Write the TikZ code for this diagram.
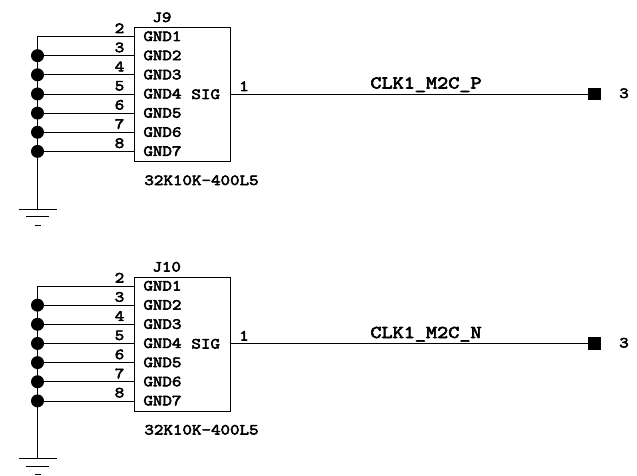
\documentclass[tikz,border=0pt]{standalone}
\usepackage{fontspec}
\setmonofont{Latin Modern Mono}[FakeBold=3.5,FakeStretch=1.2]
\usetikzlibrary{calc}

\begin{document}
\begin{tikzpicture}[x=1pt,y=-1pt,line width=0.8pt,
    every node/.style={font=\fontsize{15.4}{15}\ttfamily,inner sep=0},
    conn/.style={draw,minimum width=96pt,minimum height=134pt,anchor=north west},
    junction/.style={circle,fill,minimum size=13pt},
    terminal/.style={rectangle,fill,minimum size=12.5pt},
    netname/.style={font=\fontsize{18}{18}\ttfamily,anchor=base west},
    gndpin/.style={anchor=base west},
    pinnum/.style={anchor=base}]

    \useasboundingbox (0,0) rectangle (637,476);

    \foreach \part/\net/\off in {J9/P/0,J10/N/249.5}{
    \begin{scope}[shift={(0,\off)}]
        \node[conn] (\part) at (133.5,27) {};
        \node[anchor=base west] at (152,22) {\part};
        \node[anchor=base west] at (144,185) {32K10K-400L5};

        % ground pins
        \foreach \n/\pin in {1/2,2/3,3/4,4/5,5/6,6/7,7/8}{
            \coordinate (\part-bus\n) at (37.5,{36.5+19.15*(\n-1)});
            \coordinate (\part-pin\n) at (133.5,{36.5+19.15*(\n-1)});
            \draw (\part-bus\n) -- (\part-pin\n);
            \node[pinnum] at (119.5,{33+19.15*(\n-1)}) {\pin};
            \node[gndpin] at (143,{41+19.15*(\n-1)}) {GND\n};
            \ifnum\n>1
                \node[junction] at (\part-bus\n) {};
            \fi
        }

        % ground symbol
        \coordinate (\part-gnd) at (37.5,209);
        \draw (\part-bus1) -- (\part-gnd);
        \draw ([xshift=-19pt]\part-gnd) -- ([xshift=19pt]\part-gnd);
        \draw ([xshift=-11.5pt,yshift=-7.5pt]\part-gnd) -- ([xshift=11.5pt,yshift=-7.5pt]\part-gnd);
        \draw ([xshift=-3pt,yshift=-16pt]\part-gnd) -- ([xshift=3pt,yshift=-16pt]\part-gnd);

        % signal
        \coordinate (\part-sig) at (229.5,94);
        \node[terminal] (\part-term) at (594.5,94) {};
        \draw (\part-sig) -- (\part-term);
        \node[anchor=base west] at (191,99) {SIG};
        \node[pinnum] at (244,91) {1};
        \node[netname] at (370,88.5) {CLK1\_M2C\_\net};
        \node[anchor=base] at (624,98) {3};
    \end{scope}
    }
\end{tikzpicture}
\end{document}
